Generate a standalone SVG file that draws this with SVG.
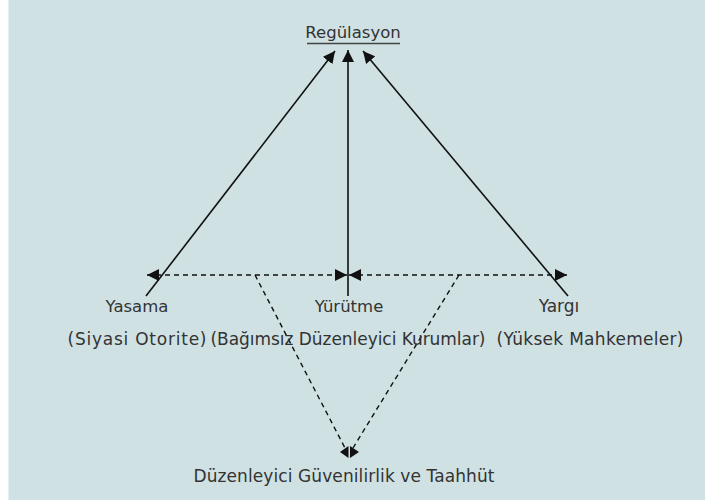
<svg xmlns="http://www.w3.org/2000/svg" width="705" height="500" viewBox="0 0 705 500">
<style>
text{font-family:"DejaVu Sans","Liberation Sans",sans-serif;font-size:17px;fill:#333;text-anchor:middle}
.t{font-size:16.5px}
.s{stroke:#111;stroke-width:1.6;fill:none}
.d{stroke:#111;stroke-width:1.4;fill:none;stroke-dasharray:5,4}
</style>
<defs>
<marker id="ah2" viewBox="0 0 10 10" refX="10" refY="5" markerWidth="12" markerHeight="12" markerUnits="userSpaceOnUse" orient="auto-start-reverse"><path d="M0,0 L10,5 L0,10 Z" fill="#111"/></marker>
</defs>
<rect x="8.5" y="0" width="696.5" height="500" fill="#cfe1e3"/>
<g id="connectors">
<line class="s" x1="146" y1="296" x2="335" y2="51" marker-end="url(#ah2)"/>
<line class="s" x1="348" y1="296" x2="348" y2="50" marker-end="url(#ah2)"/>
<line class="s" x1="568" y1="296" x2="363" y2="51" marker-end="url(#ah2)"/>
<line class="d" x1="147" y1="275" x2="347" y2="275" marker-start="url(#ah2)" marker-end="url(#ah2)"/>
<line class="d" x1="349" y1="275" x2="567" y2="275" marker-start="url(#ah2)" marker-end="url(#ah2)"/>
<line class="d" x1="255" y1="275" x2="345" y2="448"/>
<line class="d" x1="459" y1="275" x2="353" y2="448"/>
<polygon points="340,452 348.5,446 348.5,458" fill="#111"/>
<polygon points="359,452 350,446 350,458" fill="#111"/>
</g>
<g id="regulasyon">
<text class="t" x="353" y="38">Regülasyon</text>
<line x1="307" y1="43.5" x2="400" y2="43.5" stroke="#444" stroke-width="1.3"/>
</g>
<g id="yasama">
<text class="t" x="137" y="312">Yasama</text>
<text x="137" y="345" textLength="139">(Siyasi Otorite)</text>
</g>
<g id="yurutme">
<text class="t" x="349" y="312">Yürütme</text>
<text x="348" y="345" textLength="275">(Bağımsız Düzenleyici Kurumlar)</text>
</g>
<g id="yargi">
<text x="559" y="312">Yargı</text>
<text x="590" y="345" textLength="187">(Yüksek Mahkemeler)</text>
</g>
<g id="guvenilirlik">
<text x="344" y="482" textLength="301">Düzenleyici Güvenilirlik ve Taahhüt</text>
</g>
</svg>
